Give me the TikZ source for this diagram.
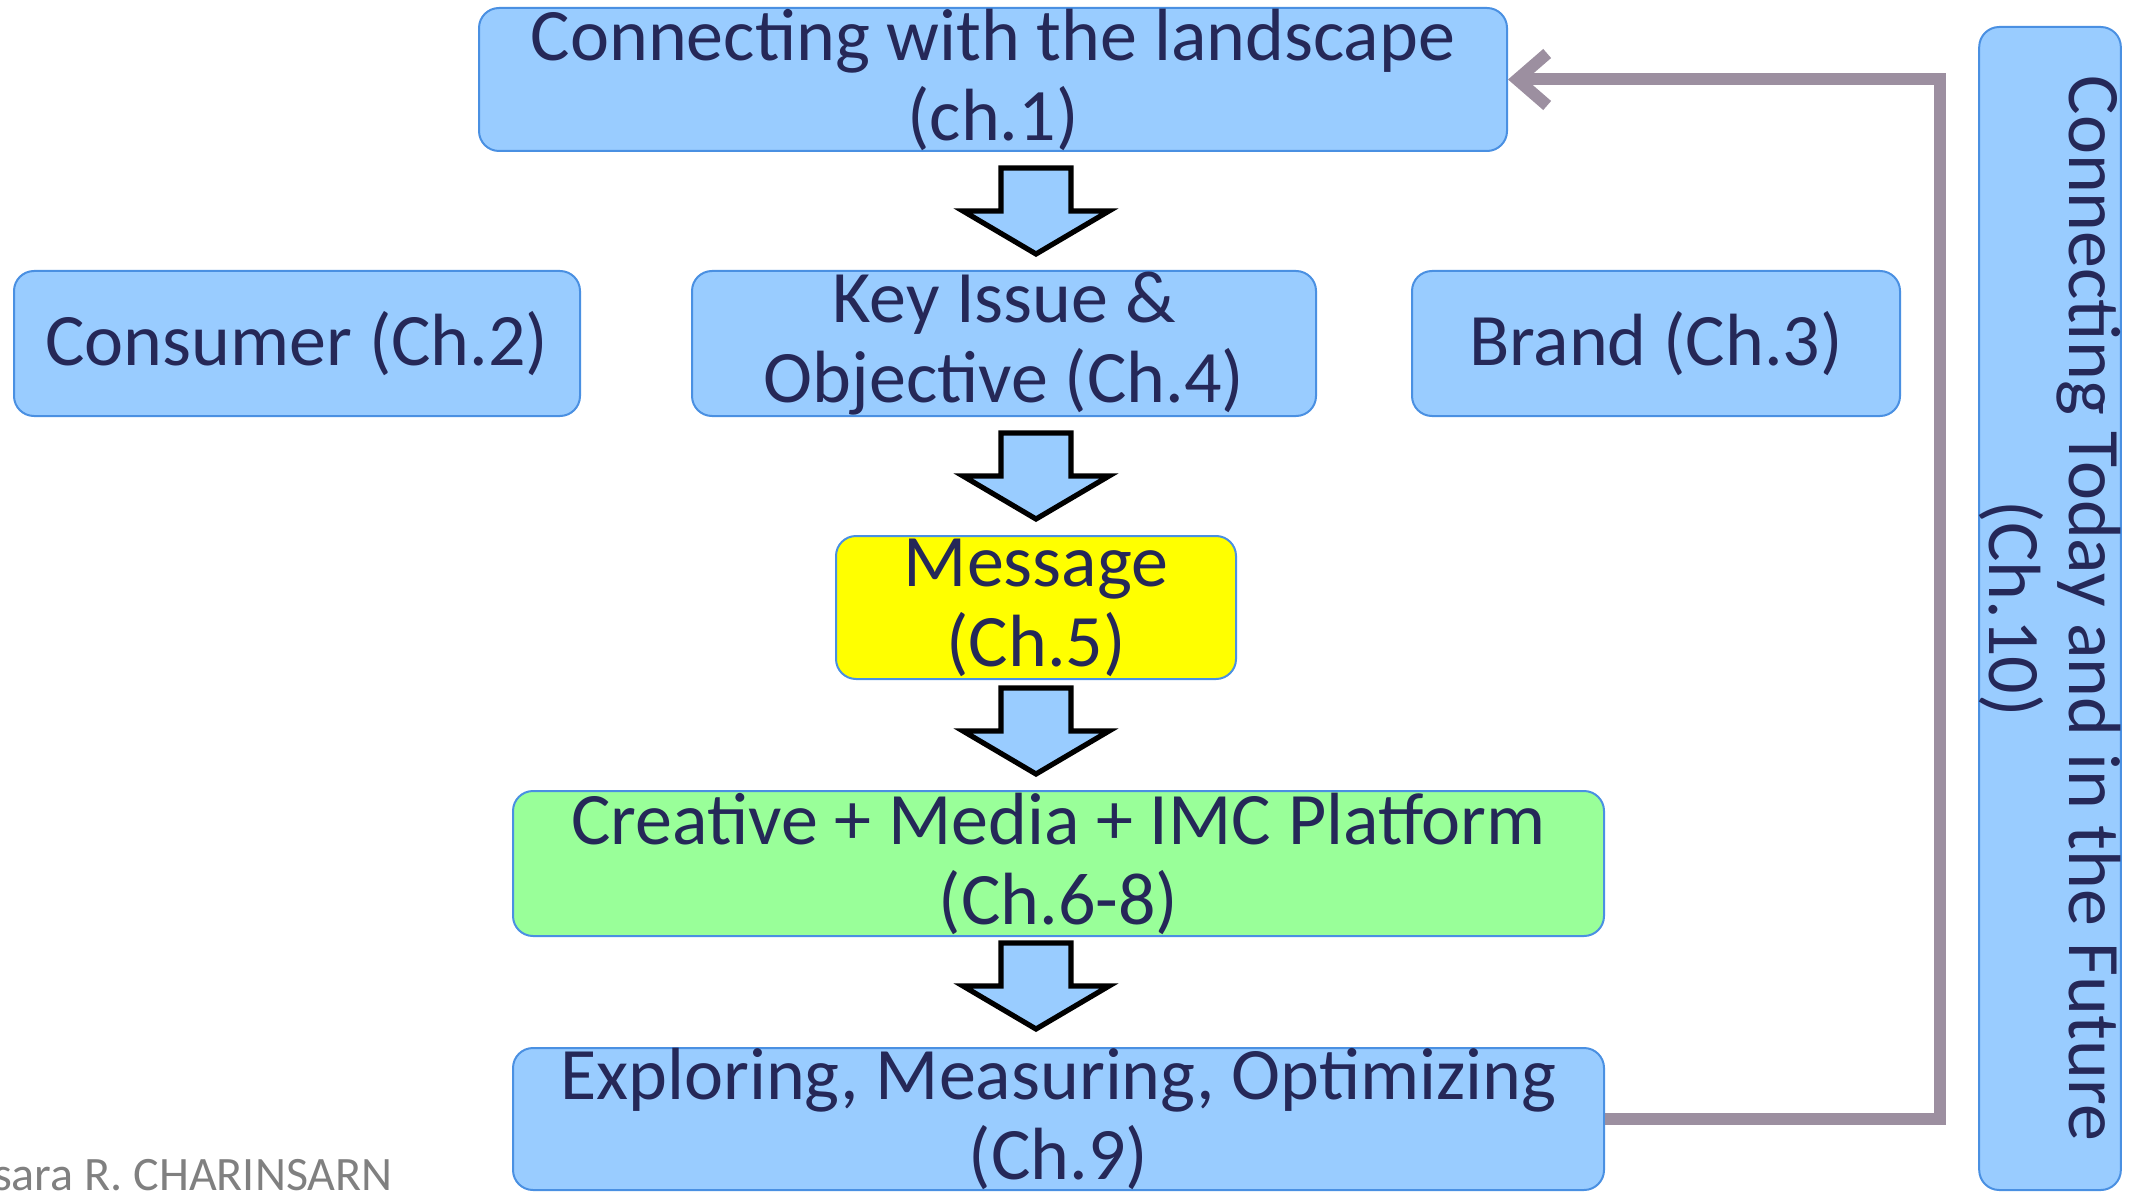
\documentclass[tikz,border=0pt]{standalone}
\usepackage{fontspec}
\setmainfont{Carlito}
\usetikzlibrary{arrows.meta,calc}

\definecolor{boxblue}{HTML}{99CCFF}
\definecolor{boxline}{HTML}{4A90E2}
\definecolor{msgyellow}{HTML}{FFFF00}
\definecolor{crgreen}{HTML}{99FF99}
\definecolor{ink}{HTML}{252858}
\definecolor{loopgray}{HTML}{9C8FA0}

\tikzset{
  box/.style={draw=boxline, line width=1pt, fill=boxblue, rounded corners=10pt,
    inner sep=0pt, align=center, text=ink,
    font=\fontsize{37}{40}\selectfont},
  downarrow/.pic={
    \draw[line width=2.6pt, miter limit=10, fill=boxblue]
      (-35,-43) -- (35,-43) -- (35,0) -- (73,0) -- (0,43) -- (-73,0) -- (-35,0) -- cycle;
  },
  loopline/.style={draw=loopgray, line width=6pt, miter limit=10,
    -{Straight Barb[length=15pt,width=26pt]}},
}

\begin{document}
\begin{tikzpicture}[x=0.5pt, y=-0.5pt]
  \useasboundingbox (0,0) rectangle (2139,1192);

  % main chain
  \node[box, minimum width=514pt, minimum height=71.5pt] (land) at (993,79.5)
    {Connecting with the landscape\\(ch.1)};
  \node[box, minimum width=283pt, minimum height=72.5pt] (cons) at (297,343.5)
    {Consumer (Ch.2)};
  \node[box, minimum width=312pt, minimum height=72.5pt] (key) at (1004,343.5)
    {Key Issue \&\\Objective (Ch.4)};
  \node[box, minimum width=244pt, minimum height=72.5pt] (brand) at (1656,343.5)
    {Brand (Ch.3)};
  \node[box, fill=msgyellow, minimum width=200pt, minimum height=71.5pt] (msg) at (1036,607.5)
    {Message\\(Ch.5)};
  \node[box, fill=crgreen, minimum width=545.5pt, minimum height=72.5pt] (crea) at (1058.5,863.5)
    {Creative + Media + IMC Platform\\(Ch.6-8)};
  \node[box, minimum width=545.5pt, minimum height=71pt] (expl) at (1058.5,1119)
    {Exploring, Measuring, Optimizing\\(Ch.9)};

  % side column
  \node[box, rotate=-90, minimum width=581.5pt, minimum height=70pt] (future) at (2050,608.5)
    {Connecting Today and in the Future\\(Ch.10)};

  % block arrows between the stages
  \path let \p1=(msg.center), \p2=($(land.south)!0.5!(key.north)$) in
    pic at (\x1,\y2) {downarrow};
  \path let \p1=(msg.center), \p2=($(key.south)!0.5!(msg.north)$) in
    pic at (\x1,\y2) {downarrow};
  \path let \p1=(msg.center), \p2=($(msg.south)!0.5!(crea.north)$) in
    pic at (\x1,\y2+2) {downarrow};
  \path let \p1=(msg.center), \p2=($(crea.south)!0.5!(expl.north)$) in
    pic at (\x1,\y2+3) {downarrow};

  % feedback loop back to the start
  \coordinate (route) at (1940,600);
  \draw[loopline] (expl.east) -- (expl.east -| route) |- (land.east);

  % author credit
  \node[anchor=base east, inner sep=0pt, text=gray, font=\fontsize{24}{26}\selectfont]
    (credit) at (393,1190) {sara R. CHARINSARN};
\end{tikzpicture}
\end{document}
